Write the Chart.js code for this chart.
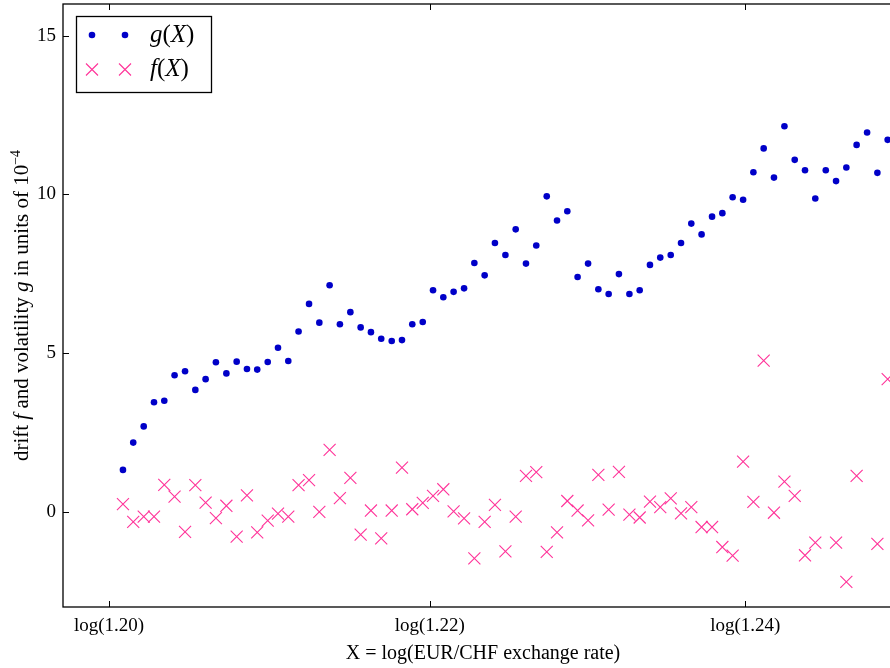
<!DOCTYPE html>
<html>
<head>
<meta charset="utf-8">
<script src="https://cdn.jsdelivr.net/npm/chart.js@4.4.1/dist/chart.umd.min.js"></script>
<style>
  html, body { margin: 0; padding: 0; overflow: hidden; background: #fff; }
  #wrap { width: 920px; height: 668px; }
</style>
</head>
<body>
<div id="wrap"><canvas id="driftChart" width="920" height="668"></canvas></div>
<script>
// X = log(EUR/CHF) bin centres
const logRate = [
  0.18304, 0.18357, 0.18411, 0.18464, 0.18517, 0.18570, 0.18624, 0.18677, 0.18730, 0.18783,
  0.18837, 0.18890, 0.18943, 0.18996, 0.19050, 0.19103, 0.19156, 0.19209, 0.19263, 0.19316,
  0.19369, 0.19422, 0.19476, 0.19529, 0.19582, 0.19635, 0.19689, 0.19742, 0.19795, 0.19849,
  0.19902, 0.19955, 0.20008, 0.20062, 0.20115, 0.20168, 0.20221, 0.20275, 0.20328, 0.20381,
  0.20434, 0.20488, 0.20541, 0.20594, 0.20647, 0.20701, 0.20754, 0.20807, 0.20860, 0.20914,
  0.20967, 0.21020, 0.21073, 0.21127, 0.21180, 0.21233, 0.21286, 0.21340, 0.21393, 0.21446,
  0.21500, 0.21553, 0.21606, 0.21659, 0.21713, 0.21766, 0.21819, 0.21872, 0.21926, 0.21979,
  0.22032, 0.22085, 0.22139, 0.22192, 0.22245
];

// volatility g(X), units of 1e-4
const gValues = [
  1.32, 2.18, 2.69, 3.45, 3.50, 4.30, 4.43, 3.84, 4.18, 4.71,
  4.36, 4.73, 4.50, 4.48, 4.72, 5.17, 4.75, 5.68, 6.55, 5.96,
  7.14, 5.91, 6.29, 5.81, 5.66, 5.45, 5.38, 5.41, 5.91, 5.98,
  6.98, 6.76, 6.93, 7.04, 7.84, 7.45, 8.47, 8.09, 8.90, 7.82,
  8.39, 9.94, 9.18, 9.47, 7.40, 7.82, 7.01, 6.86, 7.49, 6.86,
  6.98, 7.78, 8.01, 8.09, 8.47, 9.08, 8.74, 9.30, 9.41, 9.91,
  9.83, 10.70, 11.45, 10.53, 12.15, 11.09, 10.76, 9.87, 10.76, 10.42,
  10.85, 11.56, 11.95, 10.68, 11.72
];

// drift f(X), units of 1e-4 (null = outside the plotted range)
const fValues = [
  0.24, -0.32, -0.15, -0.15, 0.85, 0.48, -0.63, 0.84, 0.29, -0.20,
  0.19, -0.78, 0.52, -0.65, -0.28, -0.06, -0.15, 0.84, 1.00, 0.00,
  1.95, 0.43, 1.07, -0.72, 0.04, -0.84, 0.04, 1.39, 0.08, 0.28,
  0.50, 0.71, 0.01, -0.21, -1.47, -0.32, 0.22, -1.25, -0.15, 1.13,
  1.25, -1.26, -0.65, 0.34, 0.04, -0.27, 1.16, 0.07, 1.26, -0.09,
  -0.18, 0.32, 0.15, 0.42, -0.05, 0.15, -0.48, -0.48, -1.11, -1.38,
  1.58, 0.31, 4.76, -0.03, 0.95, 0.50, -1.37, -0.97, null, -0.97,
  -2.21, 1.13, null, -1.01, 4.18
];

const xTickRates  = [1.20, 1.22, 1.24];
const xTickLabels = ['log(1.20)', 'log(1.22)', 'log(1.24)'];
const yTickValues = [0, 5, 10, 15];

const X_MIN = 0.17995, X_MAX = 0.22324;
const Y_MIN = -3, Y_MAX = 16;

const SERIF = '"Liberation Serif", "Times New Roman", serif';
const BLUE = '#0000c8';
const PINK = '#ff3399';

// draw a run of text pieces (italic / superscript) one after another
function drawRich(ctx, parts, x, y, align) {
  const widths = parts.map(p => {
    ctx.font = `${p.italic ? 'italic ' : ''}${p.size}px ${SERIF}`;
    return ctx.measureText(p.text).width;
  });
  const total = widths.reduce((a, b) => a + b, 0);
  let cx = align === 'center' ? x - total / 2 : x;
  parts.forEach((p, i) => {
    ctx.font = `${p.italic ? 'italic ' : ''}${p.size}px ${SERIF}`;
    ctx.fillText(p.text, cx, y - (p.rise || 0));
    cx += widths[i];
  });
}

// keep the plot box exactly where the layout puts it
function noEdgePadding(scale) {
  scale.paddingTop = 0;
  scale.paddingBottom = 0;
  scale.paddingLeft = 0;
  scale.paddingRight = 0;
}

const framePlugin = {
  id: 'frame',
  afterDatasetsDraw(chart) {
    const { ctx, chartArea: a, scales } = chart;
    ctx.save();
    ctx.strokeStyle = '#000';
    ctx.lineWidth = 1.3;
    ctx.strokeRect(a.left, a.top, a.right - a.left, a.bottom - a.top);
    const len = 6;
    ctx.lineWidth = 1;
    ctx.beginPath();
    scales.x.ticks.forEach(t => {
      const px = Math.round(scales.x.getPixelForValue(t.value)) + 0.5;
      ctx.moveTo(px, a.bottom); ctx.lineTo(px, a.bottom - len);
      ctx.moveTo(px, a.top);    ctx.lineTo(px, a.top + len);
    });
    scales.y.ticks.forEach(t => {
      const py = Math.round(scales.y.getPixelForValue(t.value)) + 0.5;
      ctx.moveTo(a.left, py);  ctx.lineTo(a.left + len, py);
      ctx.moveTo(a.right, py); ctx.lineTo(a.right - len, py);
    });
    ctx.stroke();
    ctx.restore();
  }
};

const yTitlePlugin = {
  id: 'yTitle',
  afterDraw(chart) {
    const { ctx, chartArea: a } = chart;
    ctx.save();
    ctx.translate(28, (a.top + a.bottom) / 2);
    ctx.rotate(-Math.PI / 2);
    ctx.fillStyle = '#000';
    ctx.textBaseline = 'alphabetic';
    ctx.textAlign = 'left';
    drawRich(ctx, [
      { text: 'drift ', size: 21 },
      { text: 'f', size: 21, italic: true },
      { text: ' and volatility ', size: 21 },
      { text: 'g', size: 21, italic: true },
      { text: ' in units of 10', size: 21 },
      { text: '\u22124', size: 14, rise: 8 }
    ], 0, 0, 'center');
    ctx.restore();
  }
};

const legendPlugin = {
  id: 'mplLegend',
  afterDraw(chart) {
    const { ctx } = chart;
    const box = { x: 76.5, y: 16.5, w: 135, h: 76 };
    ctx.save();
    ctx.fillStyle = '#fff';
    ctx.fillRect(box.x, box.y, box.w, box.h);
    ctx.strokeStyle = '#000';
    ctx.lineWidth = 1.3;
    ctx.strokeRect(box.x, box.y, box.w, box.h);

    const rows = [
      { ds: 0, y: 35, name: 'g' },
      { ds: 1, y: 69.5, name: 'f' }
    ];
    rows.forEach(r => {
      const d = chart.data.datasets[r.ds];
      const style = {
        pointStyle: d.pointStyle,
        radius: d.pointRadius,
        borderWidth: d.borderWidth,
        rotation: 0
      };
      ctx.fillStyle = d.backgroundColor;
      ctx.strokeStyle = d.borderColor;
      ctx.lineWidth = d.borderWidth;
      [92, 125].forEach(mx => Chart.helpers.drawPoint(ctx, style, mx, r.y));
      ctx.fillStyle = '#000';
      ctx.textBaseline = 'middle';
      ctx.textAlign = 'left';
      drawRich(ctx, [
        { text: r.name, size: 25, italic: true },
        { text: '(', size: 25 },
        { text: 'X', size: 25, italic: true },
        { text: ')', size: 25 }
      ], 150, r.y, 'left');
    });
    ctx.restore();
  }
};

const ctx = document.getElementById('driftChart').getContext('2d');
new Chart(ctx, {
  type: 'scatter',
  data: {
    datasets: [
      {
        label: 'g(X)',
        data: logRate.map((x, i) => ({ x, y: gValues[i] })),
        pointStyle: 'circle',
        pointRadius: 3.3,
        backgroundColor: BLUE,
        borderColor: BLUE,
        borderWidth: 0
      },
      {
        label: 'f(X)',
        data: logRate.map((x, i) => ({ x, y: fValues[i] })),
        pointStyle: 'crossRot',
        pointRadius: 8.5,
        backgroundColor: PINK,
        borderColor: PINK,
        borderWidth: 1.1
      }
    ]
  },
  options: {
    responsive: false,
    animation: false,
    layout: { autoPadding: false, padding: { top: 4, right: 17, left: 0, bottom: 0 } },
    plugins: {
      legend: { display: false },
      tooltip: { enabled: false }
    },
    scales: {
      x: {
        type: 'linear',
        min: X_MIN,
        max: X_MAX,
        grid: { display: false, drawTicks: false },
        border: { display: false },
        afterBuildTicks(scale) {
          scale.ticks = xTickRates.map(r => ({ value: Math.log(r) }));
        },
        afterFit(scale) { scale.height = 61; noEdgePadding(scale); },
        ticks: {
          autoSkip: false,
          maxRotation: 0,
          padding: 8,
          color: '#000',
          font: { family: SERIF, size: 19 },
          callback: (v, i) => xTickLabels[i]
        },
        title: {
          display: true,
          text: 'X = log(EUR/CHF exchange rate)',
          color: '#000',
          font: { family: SERIF, size: 20 },
          padding: { top: 0, bottom: 2 }
        }
      },
      y: {
        type: 'linear',
        min: Y_MIN,
        max: Y_MAX,
        grid: { display: false, drawTicks: false },
        border: { display: false },
        afterBuildTicks(scale) {
          scale.ticks = yTickValues.map(v => ({ value: v }));
        },
        afterFit(scale) { scale.width = 63; noEdgePadding(scale); },
        ticks: {
          padding: 7,
          color: '#000',
          font: { family: SERIF, size: 19 }
        }
      }
    }
  },
  plugins: [framePlugin, yTitlePlugin, legendPlugin]
});
</script>
</body>
</html>
